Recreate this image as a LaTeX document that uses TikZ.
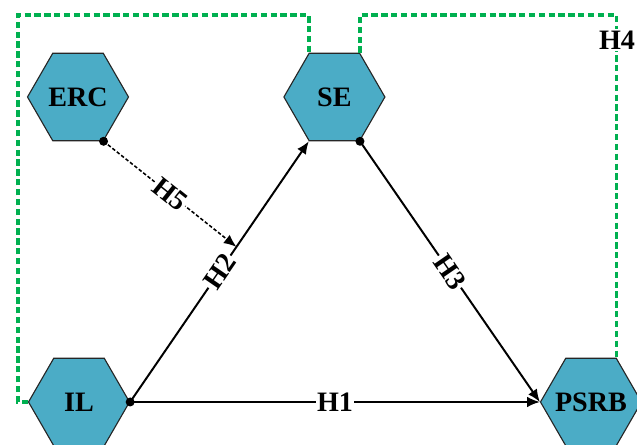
\documentclass[tikz,border=0pt]{standalone}
\usepackage{fontspec}
\setmainfont{Liberation Serif}
\usetikzlibrary{shapes.geometric,arrows.meta}
\definecolor{hexblue}{HTML}{4BACC6}
\definecolor{linkgreen}{HTML}{00B050}
\newcommand{\hexname}[1]{\makebox[0pt]{#1}}

\begin{document}
\begin{tikzpicture}[
    hexa/.style={regular polygon, regular polygon sides=6, minimum size=2.525cm,
      inner sep=0pt, fill=hexblue, draw=black!85, line width=0.8pt,
      font=\fontsize{20}{24}\selectfont\bfseries},
    lab/.style={fill=white, inner sep=1pt, font=\fontsize{20}{24}\selectfont\bfseries},
    link/.style={line width=1.4pt, -{Latex[length=9pt,width=7.5pt]}},
    dots/.style={line width=1.1pt, dash pattern=on 2.5pt off 1.5pt, -{Latex[length=9pt,width=7.5pt]}},
    grn/.style={linkgreen, line width=2.5pt, dash pattern=on 4.5pt off 2.5pt}]
        \useasboundingbox (0,0) rectangle (15.925,11.125);
        \clip (0,0) rectangle (15.925,11.125);

        \node[hexa] (ERC) at (1.95, 8.7) {\hexname{ERC}};
        \node[hexa] (SE) at (8.36, 8.7) {\hexname{SE}};
        \node[hexa] (IL) at (1.975, 1.075) {\hexname{IL}};
        \node[hexa] (PSRB) at (14.775, 1.075) {\hexname{PSRB}};

        \coordinate (gtop) at (0.45, 10.75);

        \draw[grn] (IL.west) -| (gtop) -| (SE.120);
        \draw[grn] (SE.60) |- (PSRB.60 |- gtop) -- (PSRB.60);
        \node[lab] (H4) at (15.425, 10.125) {H4};

        \path (IL.east) -- (SE.-120) coordinate[pos=0.595] (h5end);

        \draw[link] (IL.east) to node[lab]{H1} (PSRB.west);
        \draw[link] (IL.east) to node[lab, sloped]{H2} (SE.-120);
        \draw[link] (SE.-60) to node[lab, sloped]{H3} (PSRB.west);
        \draw[dots] (ERC.-60) to node[lab, sloped]{H5} (h5end);

        \fill (ERC.-60) circle (3.2pt);
        \fill (SE.-60) circle (3.2pt);
        \fill (IL.east) circle (3.2pt);

      \end{tikzpicture}
\end{document}
